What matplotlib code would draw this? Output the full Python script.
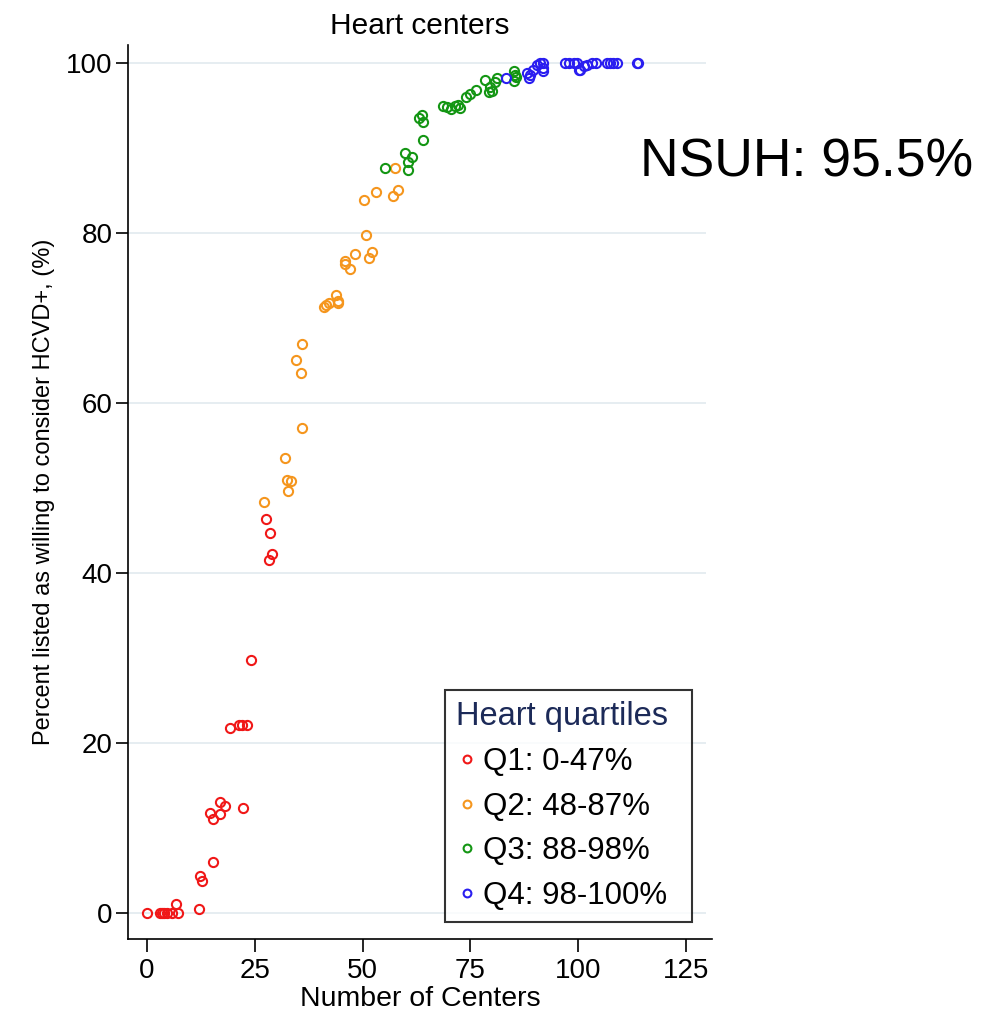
import matplotlib
matplotlib.use("Agg")
import matplotlib.pyplot as plt

plt.rcParams['font.family'] = ['Liberation Sans', 'DejaVu Sans']

# Data: (center rank, percent willing)
q1_x = [0, 2.9, 3.4, 4.0, 4.6, 5.7, 7.1, 6.7, 12.1, 12.7, 12.3, 15.2, 14.6, 15.2, 16.9, 16.9,
        18.0, 22.3, 19.3, 21.4, 22.1, 23.3, 24.1, 27.5, 28.5, 28.9, 28.3]
q1_y = [0, 0, 0, 0, 0, 0, 0, 1.0, 0.5, 3.8, 4.4, 6.0, 11.8, 11.0, 11.7, 13.0,
        12.6, 12.4, 21.8, 22.1, 22.1, 22.1, 29.8, 46.3, 44.7, 42.2, 41.5]

q2_x = [27.2, 32.6, 32.4, 33.3, 31.9, 35.9, 35.7, 34.5, 35.9, 41.1, 41.5, 42.1, 43.8, 44.2,
        44.2, 45.9, 46.0, 47.1, 48.3, 51.4, 52.2, 50.7, 50.3, 53.1, 57.1, 58.1, 57.5]
q2_y = [48.4, 49.6, 50.9, 50.8, 53.5, 57.0, 63.5, 65.1, 66.9, 71.3, 71.5, 71.8, 72.7, 71.8,
        72.0, 76.7, 76.4, 75.8, 77.5, 77.1, 77.8, 79.8, 83.9, 84.8, 84.4, 85.1, 87.6]

q3_x = [55.2, 59.9, 61.4, 60.4, 60.6, 63.9, 63.7, 63.1, 64.0, 68.7, 69.5, 70.5, 71.5, 72.2,
        72.5, 74.0, 74.9, 76.3, 78.4, 79.2, 79.6, 80.0, 81.1, 80.7, 85.0, 85.4, 85.0, 85.6]
q3_y = [87.6, 89.4, 88.9, 88.3, 87.4, 90.9, 93.9, 93.5, 93.0, 94.9, 94.8, 94.6, 94.9, 95.1,
        94.7, 96.0, 96.4, 96.8, 98.0, 96.6, 97.2, 96.7, 98.2, 97.8, 99.0, 98.6, 97.9, 98.3]

q4_x = [83.3, 88.1, 88.5, 88.9, 89.6, 90.4, 91.2, 91.9, 91.9, 91.9, 97.0, 97.8, 98.9, 99.7,
        100.1, 100.5, 101.3, 102.0, 103.2, 104.0, 106.7, 107.4, 108.0, 109.0, 113.6, 113.9]
q4_y = [98.2, 98.8, 98.2, 98.6, 99.2, 99.8, 100, 100, 99.4, 99.0, 100, 100, 100, 100,
        99.2, 99.2, 99.6, 99.8, 100, 100, 100, 100, 100, 100, 100, 100]

labels = ["Q1: 0-47%", "Q2: 48-87%", "Q3: 88-98%", "Q4: 98-100%"]
colors = ["#f01818", "#f5961e", "#149614", "#2a1ef0"]

xticks = [0, 25, 50, 75, 100, 125]
yticks = [0, 20, 40, 60, 80, 100]

fig = plt.figure(figsize=(9.81, 10.10), dpi=100)
ax = fig.add_axes([0.1305, 0.0703, 0.5953, 0.8851])

for xs, ys, lab, c in zip([q1_x, q2_x, q3_x, q4_x], [q1_y, q2_y, q3_y, q4_y], labels, colors):
    ax.plot(xs, ys, linestyle='none', marker='o', ms=6.6, mfc='none', mec=c, mew=1.5,
            label=lab, zorder=3)

ax.set_xlim(-4.4, 131)
ax.set_ylim(-3.06, 102.1)
ax.set_xticks(xticks)
ax.set_yticks(yticks)
for t in yticks:
    ax.plot([-4.4, 129.5], [t, t], color='#e4ecf0', lw=1.3, zorder=1, solid_capstyle='butt')

for s in ['top', 'right']:
    ax.spines[s].set_visible(False)
for s in ['left', 'bottom']:
    ax.spines[s].set_linewidth(1.2)
ax.tick_params(axis='both', direction='out', length=9, width=1.2, labelsize=20, pad=5)
ax.tick_params(axis='y', pad=2)

ax.set_xlabel("Number of Centers", fontsize=20.5, labelpad=1)
ax.set_ylabel("Percent listed as willing to consider HCVD+, (%)", fontsize=17, labelpad=8)
ax.set_title("Heart centers", fontsize=21.5, pad=8)

leg = ax.legend(loc='lower left', bbox_to_anchor=(0.543, 0.019, 0.4225, 0.26), mode='expand',
                fontsize=22.5, title="Heart quartiles", title_fontsize=23.5, frameon=True,
                fancybox=False, edgecolor='black', handletextpad=0.12, handlelength=0.73,
                markerscale=0.85, borderpad=0.35, borderaxespad=0, labelspacing=0.47,
                alignment='left')
leg.get_frame().set_linewidth(1.5)
leg.get_title().set_color('#1c2a58')

fig.text(640 / 981, 1 - 177 / 1010, "NSUH: 95.5%", fontsize=38.5, va='baseline', ha='left')

fig.savefig("out.png", dpi=100)
